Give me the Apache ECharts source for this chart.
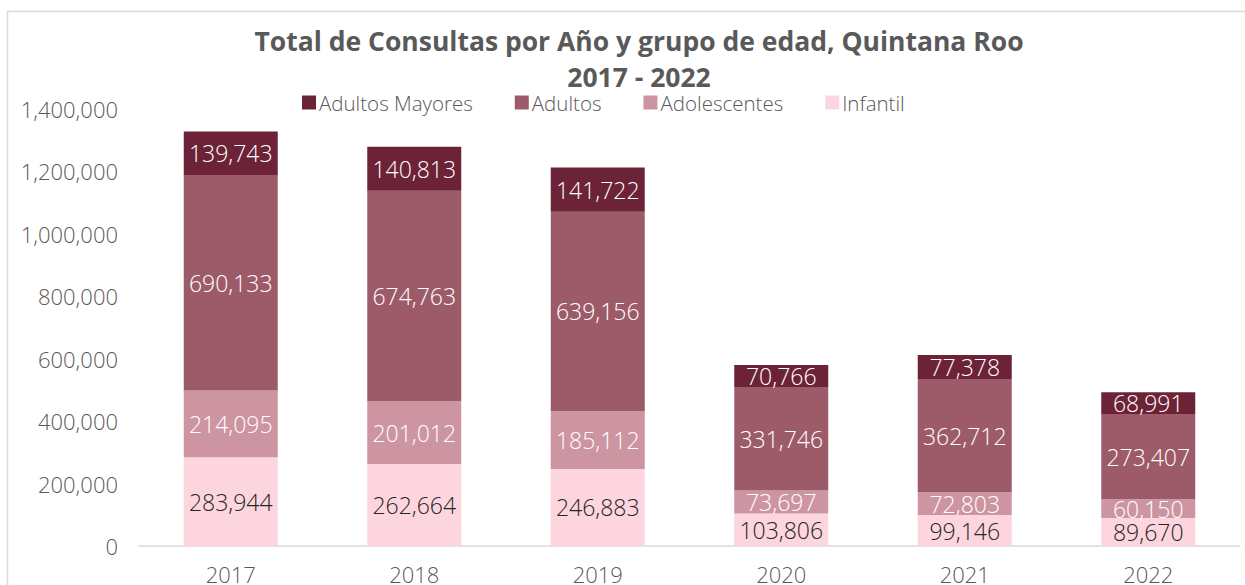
<!DOCTYPE html>
<html>
<head>
<meta charset="utf-8">
<script src="https://cdn.jsdelivr.net/npm/echarts@6/dist/echarts.min.js"></script>
<style>
  html, body { margin: 0; padding: 0; background: #fff; }
  #chart { width: 1245px; height: 585px; }
</style>
</head>
<body>
<div id="chart"></div>
<script>
// datos por grupo de edad
var years = ['2017', '2018', '2019', '2020', '2021', '2022']
var infantil = [283944, 262664, 246883, 103806, 99146, 89670]
var adolescentes = [214095, 201012, 185112, 73697, 72803, 60150]
var adultos = [690133, 674763, 639156, 331746, 362712, 273407]
var adultosMayores = [139743, 140813, 141722, 70766, 77378, 68991]

var textFont = '"Open Sans", sans-serif'

function fmt(v) {
  return v.toLocaleString('en-US')
}

function makeSeries(name, data, color, labelColor) {
  return {
    name: name,
    type: 'bar',
    stack: 'total',
    barWidth: 94,
    data: data,
    itemStyle: { color: color },
    label: {
      show: true,
      position: 'inside',
      color: labelColor,
      fontFamily: textFont,
      fontWeight: 300,
      fontSize: 23,
      formatter: function (p) { return fmt(p.value) }
    }
  }
}

// svg para que el peso ligero de la fuente se respete
var myChart = echarts.init(document.getElementById('chart'), null, { renderer: 'svg' })
myChart.setOption({
  animation: false,
  graphic: [
    {
      type: 'rect',
      shape: { x: 7.5, y: 11.5, width: 1400, height: 700 },
      style: { fill: 'none', stroke: '#d9d9d9', lineWidth: 1.5 }
    }
  ],
  title: {
    text: 'Total de Consultas por Año y grupo de edad, Quintana Roo\n2017 - 2022',
    left: 634,
    textAlign: 'center',
    top: 18,
    textStyle: {
      fontFamily: textFont,
      fontWeight: 'bold',
      fontSize: 26.5,
      lineHeight: 36,
      color: '#595959'
    }
  },
  legend: {
    data: ['Adultos Mayores', 'Adultos', 'Adolescentes', 'Infantil'],
    left: 297,
    top: 87,
    itemWidth: 14,
    itemHeight: 14,
    itemGap: 42,
    icon: 'rect',
    textStyle: {
      fontFamily: textFont,
      fontWeight: 300,
      fontSize: 20.5,
      color: '#595959',
      padding: [0, 0, 0, -2]
    }
  },
  grid: { left: 139, right: 5, top: 109, bottom: 38, containLabel: false },
  xAxis: {
    type: 'category',
    data: years,
    axisLine: { lineStyle: { color: '#d9d9d9', width: 1.5 } },
    axisTick: { show: false },
    axisLabel: {
      fontFamily: textFont,
      fontWeight: 300,
      fontSize: 22,
      color: '#595959',
      margin: 17
    }
  },
  yAxis: {
    type: 'value',
    min: 0,
    max: 1400000,
    interval: 200000,
    splitLine: { show: false },
    axisLine: { show: false },
    axisTick: { show: false },
    axisLabel: {
      fontFamily: textFont,
      fontWeight: 300,
      fontSize: 22,
      color: '#595959',
      margin: 21,
      formatter: function (v) { return fmt(v) }
    }
  },
  series: [
    makeSeries('Infantil', infantil, '#fdd5de', '#262626'),
    makeSeries('Adolescentes', adolescentes, '#cd95a2', '#ffffff'),
    makeSeries('Adultos', adultos, '#9d5b6a', '#ffffff'),
    makeSeries('Adultos Mayores', adultosMayores, '#6c2237', '#ffffff')
  ]
})
</script>
</body>
</html>
